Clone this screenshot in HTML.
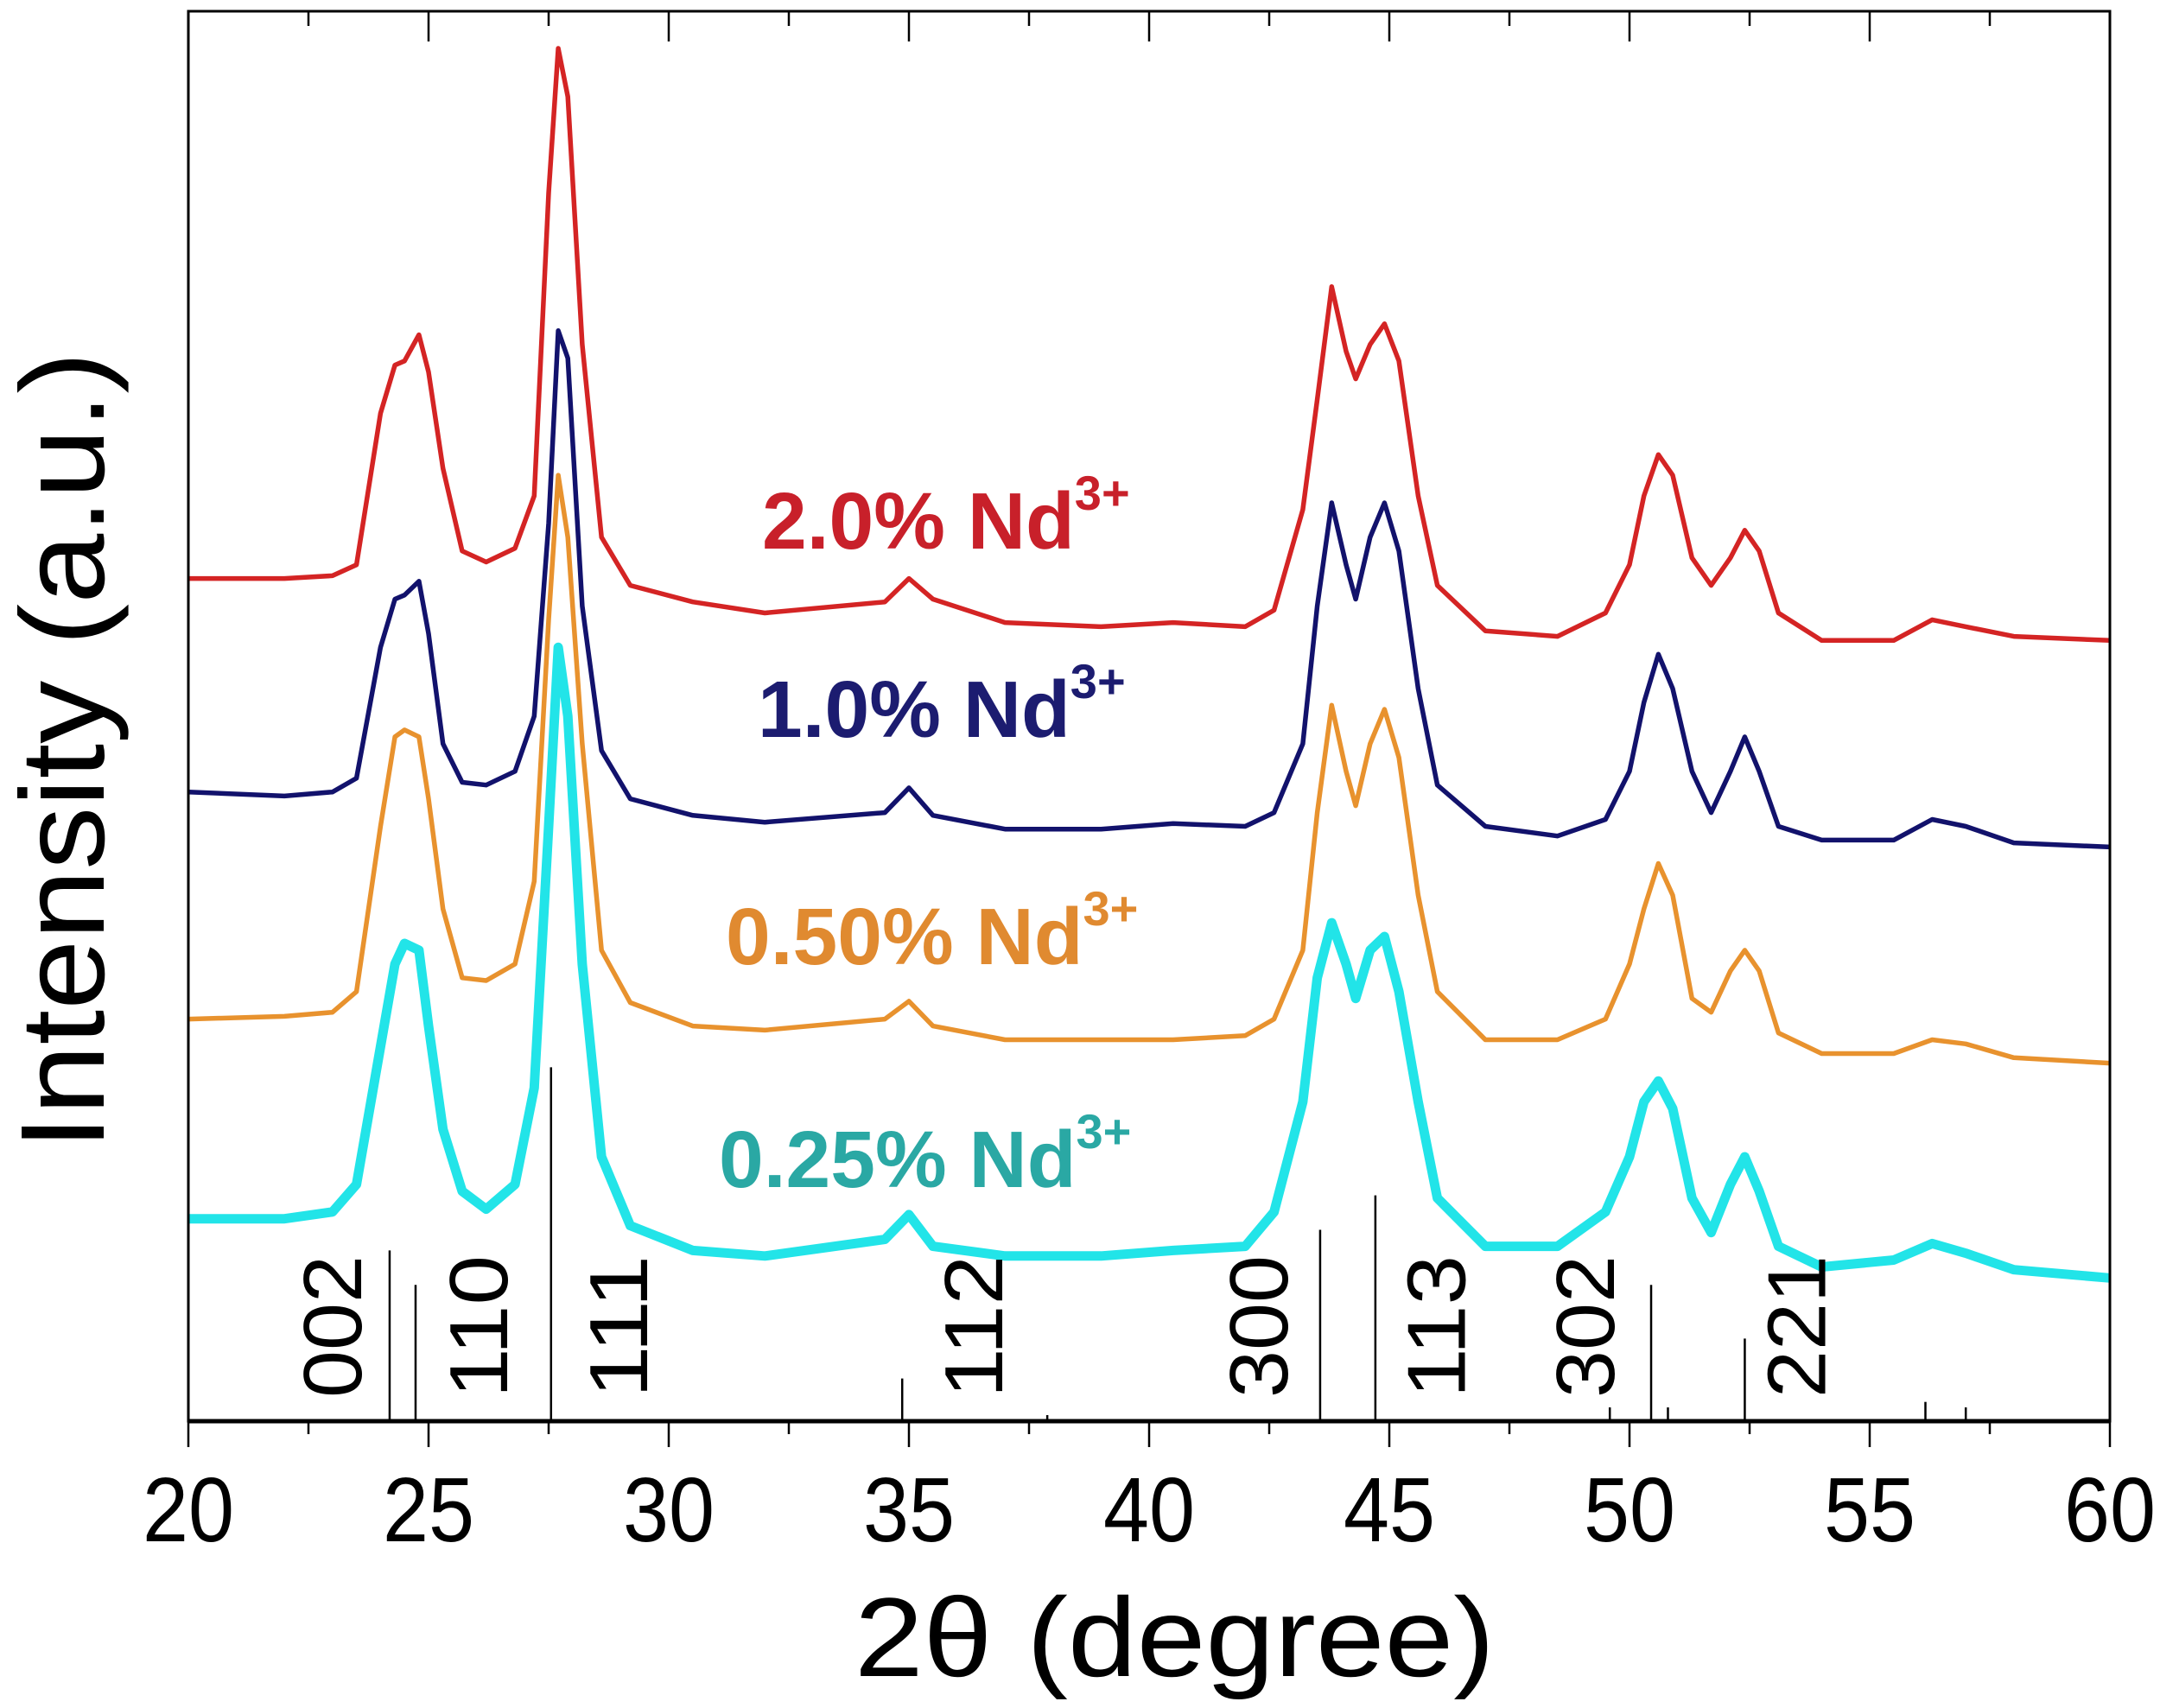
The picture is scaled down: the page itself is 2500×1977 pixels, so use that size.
<!DOCTYPE html>
<html><head><meta charset="utf-8"><style>
html,body{margin:0;padding:0;background:#fff;}
svg{display:block;font-family:"Liberation Sans",Arial,sans-serif;}
</style></head><body>
<svg id="chart" width="2500" height="1977" viewBox="0 0 2500 1977" xmlns="http://www.w3.org/2000/svg">
<g id="refs"></g>
<g id="series"></g>
<g id="axes"></g>
<g id="hkl"></g>
<text x="882" y="635" font-size="93" font-weight="bold" fill="#c8202a">2.0% Nd<tspan font-size="56" dy="-45">3+</tspan></text>
<text x="877" y="853" font-size="93" font-weight="bold" fill="#1c1c70">1.0% Nd<tspan font-size="56" dy="-45">3+</tspan></text>
<text x="840" y="1116" font-size="93" font-weight="bold" fill="#e08a30">0.50% Nd<tspan font-size="56" dy="-45">3+</tspan></text>
<text x="832" y="1374" font-size="93" font-weight="bold" fill="#2aa8a4">0.25% Nd<tspan font-size="56" dy="-45">3+</tspan></text>
<text x="989" y="1940" font-size="130" textLength="741" lengthAdjust="spacingAndGlyphs">2θ (degree)</text>
<text transform="translate(120,1331) rotate(-90)" x="0" y="0" font-size="138" textLength="924" lengthAdjust="spacingAndGlyphs">Intensity (a.u.)</text>
</svg>
<script>
const xGrid=[20,22,23,23.5,24,24.3,24.5,24.8,25.0,25.3,25.7,26.2,26.8,27.2,27.5,27.7,27.9,28.2,28.6,29.2,30.5,32,34.5,35,35.5,37,39,40.5,42,42.6,43.2,43.5,43.8,44.1,44.3,44.6,44.9,45.2,45.6,46,47,48.5,49.5,50,50.3,50.6,50.9,51.3,51.7,52.1,52.4,52.7,53.1,54,55.5,56.3,57,58,60];
const red=[612,612,614,622,732,767,770,789,762,692,632,624,634,672,892,997,962,782,642,607,595,587,595,612,597,580,577,580,577,589,662,742,824,777,757,782,797,770,672,607,574,570,587,622,672,702,687,627,607,627,647,632,587,567,567,582,577,570,567];
const blue=[457,454,457,467,562,597,600,610,572,492,464,462,472,512,652,792,772,592,487,452,440,435,442,460,440,430,430,434,432,442,492,592,667,622,597,642,667,632,532,462,432,425,437,472,522,557,532,472,442,472,497,472,432,422,422,437,432,420,417];
const orange=[292,294,297,312,432,497,502,497,452,372,322,320,332,392,582,687,642,492,342,304,287,284,292,305,287,277,277,277,280,292,342,442,520,472,447,492,517,482,382,312,277,277,292,332,372,405,382,307,297,327,342,327,282,267,267,277,274,264,260];
const cyan=[147,147,152,172,272,332,347,342,287,212,167,154,172,242,432,562,512,332,192,142,124,120,132,150,127,120,120,124,127,152,232,322,362,332,307,342,352,312,232,162,127,127,152,192,232,247,227,162,137,172,192,167,127,112,117,129,122,110,104];
const refPos=[24.19,24.73,27.55,34.86,37.88,43.56,44.71,49.59,50.45,50.8,52.4,56.16,57.0];
const refH=[124,99,257,31,4.4,139,164,10,99,10,60,14,10];
const hklText=["002","110","111","112","300","113","302","221"];
const hklPos=[23.6,26.64,29.55,36.94,42.88,46.57,49.68,54.07];
const xTicks=[20,25,30,35,40,45,50,55,60];
const xTickLabels=["20","25","30","35","40","45","50","55","60"];

const L=218,R=2442,T=13,B=1645;
const X=v=>L+(v-20)/(60-20)*(R-L);
const Y=v=>B-v/1024*(B-T);
const NS="http://www.w3.org/2000/svg";
function mk(tag,parent){const e=document.createElementNS(NS,tag);parent.appendChild(e);return e;}

const refs=document.getElementById('refs');
refPos.forEach((p,i)=>{const l=mk('line',refs);


l.setAttribute('x1',X(p));l.setAttribute('x2',X(p));l.setAttribute('y1',B);l.setAttribute('y2',Y(refH[i]));
l.setAttribute('stroke','#000');l.setAttribute('stroke-width','2.5');});

const sg=document.getElementById('series');
[[red,'#d42424',5.5,'series-2.0'],[blue,'#12126c',5.5,'series-1.0'],[orange,'#e8922e',5.5,'series-0.50'],[cyan,'#22e4e8',11,'series-0.25']].forEach(s=>{
const p=mk('path',sg);


p.setAttribute('d',s[0].map((v,i)=>(i?'L':'M')+X(xGrid[i]).toFixed(1)+','+Y(v).toFixed(1)).join(''));
p.setAttribute('fill','none');p.setAttribute('stroke',s[1]);p.setAttribute('stroke-width',s[2]);p.setAttribute('stroke-linejoin','round');});

const ax=document.getElementById('axes');
const fr=mk('rect',ax);


fr.setAttribute('x',L);fr.setAttribute('y',T);fr.setAttribute('width',R-L);fr.setAttribute('height',B-T);
fr.setAttribute('fill','none');fr.setAttribute('stroke','#000');fr.setAttribute('stroke-width','3');
const bx=mk('line',ax);


bx.setAttribute('x1',L);bx.setAttribute('x2',R);bx.setAttribute('y1',B);bx.setAttribute('y2',B);bx.setAttribute('stroke','#000');bx.setAttribute('stroke-width','5');
for(let v=20;v<=60;v+=2.5){const major=(v%5===0);
const t=mk('line',ax);


t.setAttribute('x1',X(v));t.setAttribute('x2',X(v));t.setAttribute('y1',B);t.setAttribute('y2',B+(major?30:15));t.setAttribute('stroke','#000');t.setAttribute('stroke-width','2.5');
const u=mk('line',ax);


u.setAttribute('x1',X(v));u.setAttribute('x2',X(v));u.setAttribute('y1',T);u.setAttribute('y2',T+(major?35:17));u.setAttribute('stroke','#000');u.setAttribute('stroke-width','2.5');}
xTicks.forEach((v,i)=>{const t=mk('text',ax);


t.setAttribute('x',X(v));t.setAttribute('y',1784);t.setAttribute('font-size','106');t.setAttribute('text-anchor','middle');
t.setAttribute('textLength','106');t.setAttribute('lengthAdjust','spacingAndGlyphs');t.textContent=xTickLabels[i];});

const hg=document.getElementById('hkl');
hklText.forEach((s,i)=>{const t=mk('text',hg);


const x=X(hklPos[i]);
t.setAttribute('transform','translate('+x.toFixed(1)+',1618) rotate(-90)');
t.setAttribute('font-size','96');t.setAttribute('textLength','165');t.setAttribute('lengthAdjust','spacingAndGlyphs');t.textContent=s;});
</script>
</body></html>
